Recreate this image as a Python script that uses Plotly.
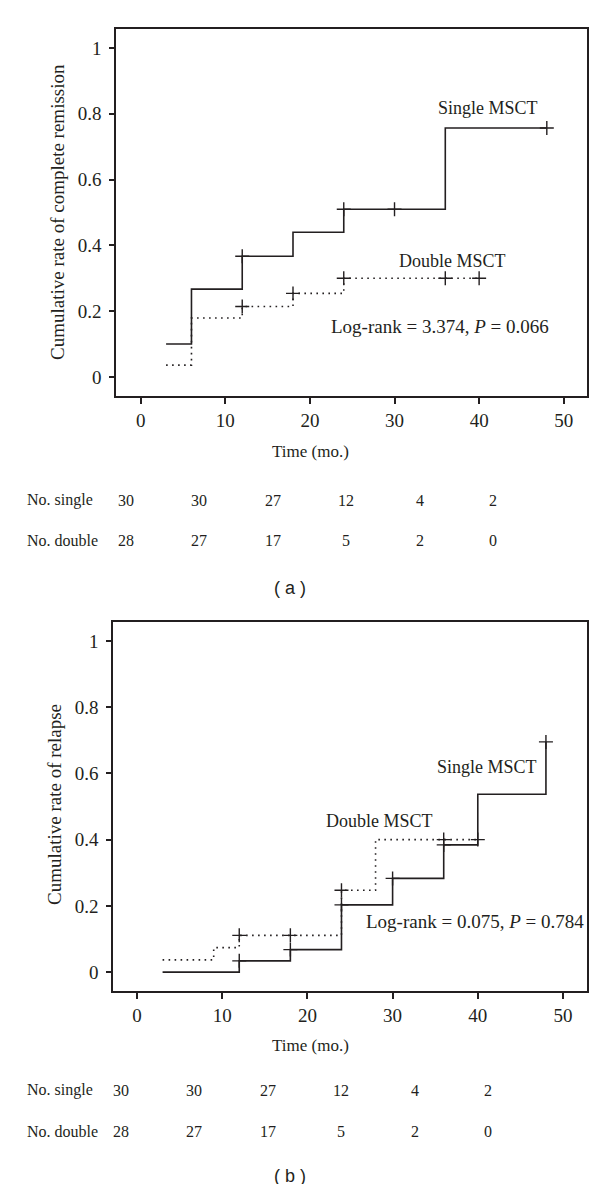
import plotly.graph_objects as go

W, H = 600, 1184
INK = "#231f20"
SERIF = "Liberation Serif"

# Panel (a): cumulative rate of complete remission
a_single_t = [3, 6, 12, 18, 24, 36, 48]
a_single_y = [0.10, 0.267, 0.367, 0.44, 0.51, 0.757, 0.757]
a_single_cens_t = [12, 24, 30, 48]
a_single_cens_y = [0.367, 0.51, 0.51, 0.757]
a_double_t = [3, 6, 12, 18, 24, 40]
a_double_y = [0.036, 0.179, 0.214, 0.254, 0.30, 0.30]
a_double_cens_t = [12, 18, 24, 36, 40]
a_double_cens_y = [0.214, 0.254, 0.30, 0.30, 0.30]

# Panel (b): cumulative rate of relapse
b_single_t = [3, 12, 18, 24, 30, 36, 40, 48]
b_single_y = [0.0, 0.034, 0.068, 0.203, 0.283, 0.384, 0.537, 0.695]
b_single_cens_t = [12, 18, 24, 30, 36, 48]
b_single_cens_y = [0.034, 0.068, 0.203, 0.283, 0.384, 0.695]
b_double_t = [3, 9, 12, 18, 24, 28, 40]
b_double_y = [0.037, 0.074, 0.111, 0.111, 0.247, 0.40, 0.40]
b_double_cens_t = [12, 18, 24, 36, 40]
b_double_cens_y = [0.111, 0.111, 0.247, 0.40, 0.40]

# numbers at risk
risk_single = [30, 30, 27, 12, 4, 2]
risk_double = [28, 27, 17, 5, 2, 0]


def py(p):
    # pixel row -> paper y
    return 1 - p / H


fig = go.Figure()


def add_panel(xa, ya, st, sy, sct, scy, dt, dy, dct, dcy):
    fig.add_trace(go.Scatter(x=st, y=sy, mode="lines", line=dict(shape="hv", color=INK, width=1.6),
                             xaxis=xa, yaxis=ya, hoverinfo="skip"))
    fig.add_trace(go.Scatter(x=dt, y=dy, mode="lines",
                             line=dict(shape="hv", color=INK, width=1.6, dash="1.6px,4.4px"),
                             xaxis=xa, yaxis=ya, hoverinfo="skip"))
    for cx, cy in [(sct, scy), (dct, dcy)]:
        fig.add_trace(go.Scatter(x=cx, y=cy, mode="markers",
                                 marker=dict(symbol="cross-thin", size=10, line=dict(width=1.4, color=INK)),
                                 xaxis=xa, yaxis=ya, hoverinfo="skip"))


add_panel("x", "y", a_single_t, a_single_y, a_single_cens_t, a_single_cens_y,
          a_double_t, a_double_y, a_double_cens_t, a_double_cens_y)
add_panel("x2", "y2", b_single_t, b_single_y, b_single_cens_t, b_single_cens_y,
          b_double_t, b_double_y, b_double_cens_t, b_double_cens_y)

ax_common = dict(showline=True, linecolor=INK, linewidth=1.5, mirror=True, showgrid=False,
                 zeroline=False, ticks="outside", tickwidth=1.5, tickcolor=INK,
                 tickfont=dict(family=SERIF, size=19, color=INK))
x_common = dict(ticklen=6, tickvals=[0, 10, 20, 30, 40, 50], **ax_common)
y_common = dict(ticklen=5, ticklabelstandoff=4, tickvals=[0, 0.2, 0.4, 0.6, 0.8, 1],
                ticktext=["0", "0.2", "0.4", "0.6", "0.8", "1"], **ax_common)

fig.update_layout(
    width=W, height=H, margin=dict(l=0, r=0, t=0, b=0),
    paper_bgcolor="white", plot_bgcolor="white", showlegend=False,
    xaxis=dict(domain=[108 / W, 579 / W], anchor="y", range=[-2.92, 52.75], **x_common),
    yaxis=dict(domain=[py(388), py(21)], anchor="x", range=[-0.058, 1.058], **y_common),
    xaxis2=dict(domain=[105 / W, 579 / W], anchor="y2", range=[-2.82, 52.82], **x_common),
    yaxis2=dict(domain=[py(983), py(614)], anchor="x2", range=[-0.057, 1.057], **y_common),
)

ann = []


def txt(text, x, y, size=19, xanchor="center", angle=0, family=SERIF):
    ann.append(dict(text=text, x=x, y=y, xref="paper", yref="paper", showarrow=False, xanchor=xanchor,
                    yanchor="middle", textangle=angle, font=dict(family=family, size=size, color=INK)))


# panel (a) labels
txt("Single MSCT", 480 / W, py(100), size=18)
txt("Double MSCT", 444 / W, py(253), size=18)
txt("Log-rank = 3.374, <i>P</i> = 0.066", 432 / W, py(318))
txt("Cumulative rate of complete remission", 50 / W, py(204), angle=-90)
txt("Time (mo.)", 302 / W, py(443), size=17)

# panel (b) labels
txt("Single MSCT", 479 / W, py(759), size=18)
txt("Double MSCT", 371 / W, py(813), size=18)
txt("Log-rank = 0.075, <i>P</i> = 0.784", 467 / W, py(913))
txt("Cumulative rate of relapse", 46 / W, py(797), angle=-90)
txt("Time (mo.)", 302 / W, py(1037), size=17)

# risk tables
for row_y, vals, lab in [(492, risk_single, "No. single"), (533, risk_double, "No. double"),
                         (1082, risk_single, "No. single"), (1123, risk_double, "No. double")]:
    txt(lab, 17 / W, py(row_y), size=16, xanchor="left")
    x0 = 118 if row_y < 600 else 113
    for i, v in enumerate(vals):
        txt(str(v), (x0 + 73.4 * i) / W, py(row_y), size=16)

txt("( a )", 282 / W, py(580), size=18, family="Liberation Sans")
txt("( b )", 282 / W, py(1168), size=18, family="Liberation Sans")

fig.update_layout(annotations=ann)
fig.write_html("out.html")
